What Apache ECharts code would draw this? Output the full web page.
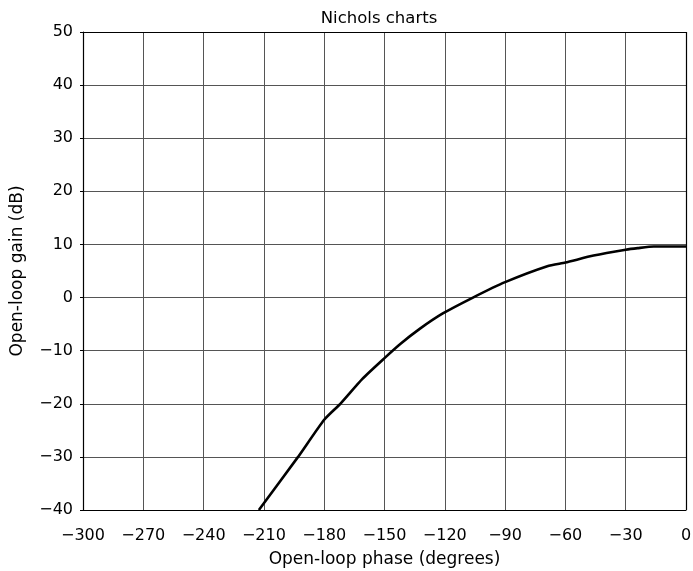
<!DOCTYPE html>
<html>
<head>
<meta charset="utf-8">
<script src="https://cdn.jsdelivr.net/npm/echarts@6/dist/echarts.min.js"></script>
<style>
  html, body { margin: 0; padding: 0; background: #fff; }
  #chart { width: 693px; height: 571px; }
</style>
</head>
<body>
<div id="chart"></div>
<script>
// Open-loop frequency response plotted on Nichols axes
const phaseDeg = [-212.5, -193, -180, -172, -161, -150, -142, -132.5, -121, -106, -90, -69, -60, -46, -30, -24, -16, 0];
const gainDb   = [-40, -30, -23, -20, -15.3, -11.4, -8.7, -5.9, -3.0, 0, 2.9, 5.9, 6.6, 7.9, 9.0, 9.3, 9.6, 9.6];

const phaseTicks = { min: -300, max: 0, interval: 30 };
const gainTicks = { min: -40, max: 50, interval: 10 };

const font = 'DejaVu Sans, Arial, sans-serif';
const points = phaseDeg.map((p, i) => [p, gainDb[i]]);
const signed = v => (v < 0 ? '\u2212' + Math.abs(v) : String(v));

const chart = echarts.init(document.getElementById('chart'), null, { renderer: 'canvas' });
chart.setOption({
  animation: false,
  backgroundColor: '#fff',
  title: {
    text: 'Nichols charts',
    left: 374, top: 5, textAlign: 'center',
    textStyle: { fontFamily: font, fontSize: 16.5, fontWeight: 'normal', color: '#000' }
  },
  grid: { left: 83, right: 7, top: 32, bottom: 61, outerBoundsMode: 'none', containLabel: false },
  xAxis: {
    type: 'value',
    min: phaseTicks.min, max: phaseTicks.max, interval: phaseTicks.interval,
    name: 'Open-loop phase (degrees)',
    nameLocation: 'middle', nameGap: 41,
    nameTextStyle: { fontFamily: font, fontSize: 17, color: '#000' },
    axisLine: { onZero: false, lineStyle: { color: '#000', width: 1.2 } },
    axisTick: { show: false },
    axisLabel: { fontFamily: font, fontSize: 16, color: '#000', margin: 18, formatter: signed },
    splitLine: { show: true, lineStyle: { color: '#555', width: 1 } }
  },
  yAxis: {
    type: 'value',
    min: gainTicks.min, max: gainTicks.max, interval: gainTicks.interval,
    name: 'Open-loop gain (dB)',
    nameLocation: 'middle', nameGap: 57, nameRotate: 90,
    nameTextStyle: { fontFamily: font, fontSize: 17, color: '#000' },
    axisLine: { onZero: false, lineStyle: { color: '#000', width: 1.2 } },
    axisTick: { show: true, length: 3, lineStyle: { color: '#000' } },
    axisLabel: { fontFamily: font, fontSize: 16, color: '#000', margin: 10, formatter: signed },
    splitLine: { show: true, lineStyle: { color: '#555', width: 1 } }
  },
  series: [{
    type: 'line',
    data: points,
    showSymbol: false,
    smooth: 0.2,
    clip: true,
    lineStyle: { color: '#000', width: 2.6 }
  }, {
    // frame along the top and right edges
    type: 'line', data: [], silent: true,
    markLine: {
      symbol: 'none', silent: true, label: { show: false },
      lineStyle: { color: '#000', width: 1.2, type: 'solid' },
      data: [{ yAxis: gainTicks.max }, { xAxis: phaseTicks.max }]
    }
  }]
});
</script>
</body>
</html>
